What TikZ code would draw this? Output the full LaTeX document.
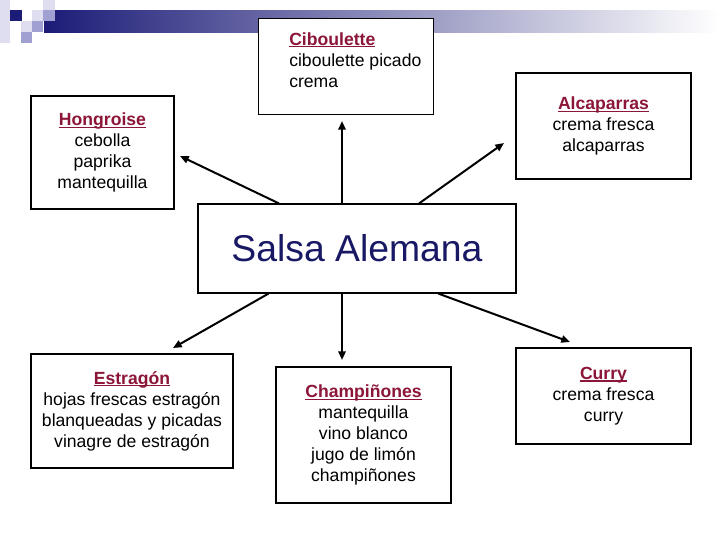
\documentclass[tikz,border=0pt]{standalone}
\usepackage{fontspec}
\setmainfont{Liberation Sans}
\usetikzlibrary{arrows.meta}

\definecolor{tituloRojo}{RGB}{140,22,55}
\definecolor{azulOscuro}{RGB}{24,24,100}
\definecolor{barraAzul}{RGB}{28,28,120}
\definecolor{lilaClaro}{RGB}{222,222,240}
\definecolor{lilaMedio}{RGB}{160,160,210}

% bold red title, underlined just under the baseline
\newcommand{\titulo}[1]{{\bfseries\color{tituloRojo}%
  \setbox0\hbox{#1}\rlap{\raisebox{-1.7pt}{\rule{\wd0}{0.9pt}}}\box0}}

\begin{document}
\begin{tikzpicture}[x=0.75pt,y=0.75pt,yscale=-1,xscale=1,
  caja/.style={draw, fill=white, line width=0.9pt, inner sep=0pt, align=center,
    font=\fontsize{13.2}{15.75}\selectfont},
  flecha/.style={line width=1.5pt, -{Triangle[length=6.5pt,width=5.5pt]}}]
\useasboundingbox (0,0) rectangle (720,540);

%Header bar and squares
\shade[left color=barraAzul, right color=white] (44,10) rectangle (720,32);
\fill[lilaClaro] (0,0) rectangle (10,43);
\fill[barraAzul] (10,10) rectangle (22,21);
\fill[lilaClaro] (21,21) rectangle (32,32);
\fill[lilaClaro] (32,10) rectangle (43,21);
\fill[lilaClaro] (43,0) rectangle (55,10);
\fill[lilaMedio] (43,10) rectangle (55,21);
\fill[lilaMedio] (32,21) rectangle (43,32);
\fill[lilaMedio] (21,32) rectangle (32,43);

%Boxes
\node[caja, minimum width=131.25pt, minimum height=72pt, anchor=north west] (cib) at (258,18) {};
\node[anchor=north west, inner sep=0pt, align=left, font=\fontsize{13.2}{15.75}\selectfont] (cibTexto) at (289,32)
  {\titulo{Ciboulette}\\ciboulette picado\\crema};
\node[caja, minimum width=131.25pt, minimum height=79.5pt] (alc) at (603.5,126)
  {\titulo{Alcaparras}\\crema fresca\\alcaparras};
\node[caja, minimum width=107.25pt, minimum height=84.75pt] (hon) at (102.5,152.5)
  {\titulo{Hongroise}\\cebolla\\paprika\\mantequilla};
\node[caja, minimum width=238.5pt, minimum height=66.75pt, text=azulOscuro,
  font=\fontsize{28}{33}\selectfont] (salsa) at (357,248.5) {Salsa Alemana};
\node[caja, minimum width=151.5pt, minimum height=85.5pt] (est) at (132,411)
  {\titulo{Estragón}\\hojas frescas estragón\\blanqueadas y picadas\\vinagre de estragón};
\node[caja, minimum width=131.25pt, minimum height=102pt] (cha) at (363.5,435)
  {\titulo{Champiñones}\\mantequilla\\vino blanco\\jugo de limón\\champiñones};
\node[caja, minimum width=131.25pt, minimum height=72pt] (cur) at (603.5,396)
  {\titulo{Curry}\\crema fresca\\curry};

%Arrow tips
\coordinate (pCib) at (342,121);
\coordinate (pAlc) at (504,143);
\coordinate (pHon) at (180,156);
\coordinate (pEst) at (173,348);
\coordinate (pCha) at (342,360);
\coordinate (pCur) at (570,342);

%Arrows
\draw[flecha] (salsa.north -| pCib) -- (pCib);
\draw[flecha] (salsa.36) -- (pAlc);
\draw[flecha] (salsa.150) -- (pHon);
\draw[flecha] (salsa.207) -- (pEst);
\draw[flecha] (salsa.south -| pCha) -- (pCha);
\draw[flecha] (salsa.-29) -- (pCur);

\end{tikzpicture}
\end{document}
